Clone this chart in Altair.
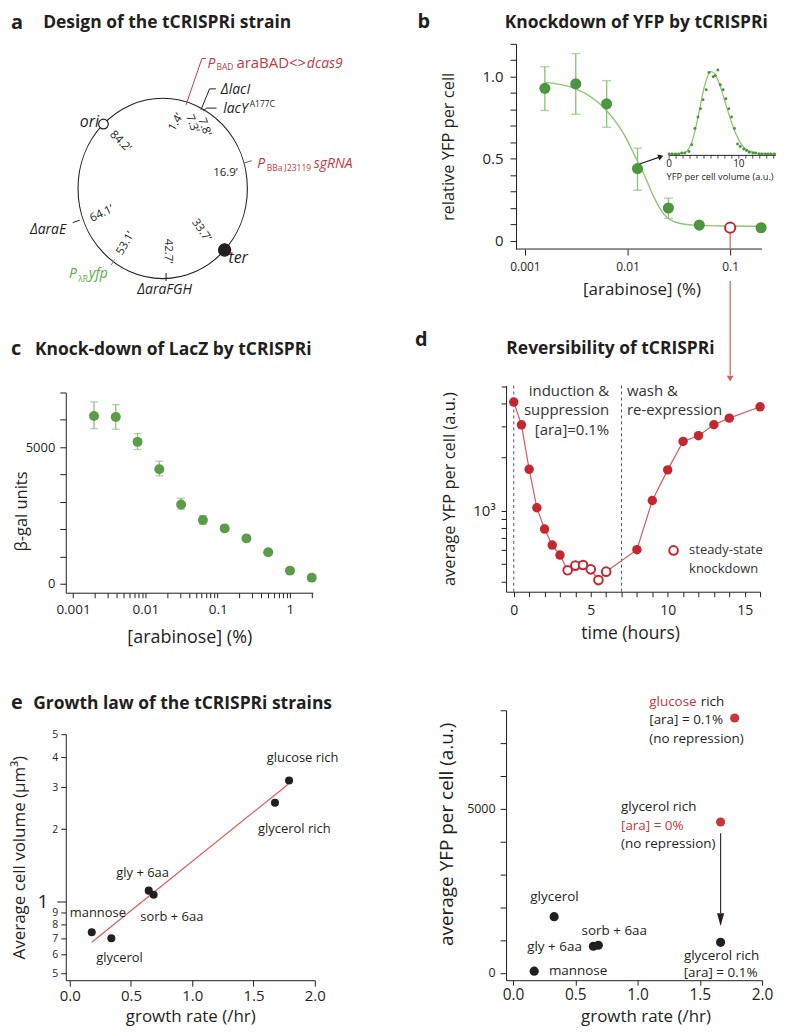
import altair as alt
import pandas as pd

FONT = "Open Sans"
INK = "#231f20"
GREEN = "#4d9541"
GREEN_C = "#5c9b48"
GREEN_BAR = "#8fc47e"
GREEN_FIT = "#8bc870"
RED = "#c4272f"
RED_LINE = "#d85a5e"
MAP_RED = "#c13a3e"
MAP_GREEN = "#5ca948"
E_RED = "#c8373c"
DASH = "#555555"

# ======================= data: panel a (genome map) =======================
MAP_RX, MAP_RY = 85.0, 90.5
map_center_x = [0.0]
map_center_y = [0.0]
site_names = ["ori", "ter"]
site_angles = [315.6, 133.0]
site_states = ["open", "filled"]
site_label_x = [-83.3, 66.0]
site_label_y = [62.2, -74.5]

pos_labels = ["1.4’", "7.3’", "7.8’", "16.9’", "33.7’", "42.7’", "53.1’", "64.1’", "84.2’"]
pos_x = [13.4, 29.2, 41.7, 63.0, 38.4, 4.9, -37.1, -61.1, -42.8]
pos_y = [66.4, 65.0, 61.7, 15.5, -42.0, -62.8, -55.3, -25.6, 47.2]
pos_angle = [300, 70, 70, 0, 55, 90, 300, 335, 45]

gene_text = ["P", "dcas9", "\u0394lacI", "lacY", "P", "sgRNA", "\u0394araE", "P", "yfp", "\u0394araFGH"]
gene_x = [45.0, 144.7, 58.4, 60.7, 95.0, 151.7, -133.3, -94.0, -74.0, -25.6]
gene_y = [120.5, 120.5, 94.7, 75.7, 20.5, 20.5, -46.1, -89.5, -89.5, -105.5]
gene_kind = ["dcas9", "dcas9", "host", "host", "dcas9", "dcas9", "host", "reporter", "reporter", "host"]

plain_text = ["araBAD<>"]
plain_x = [74.0]
plain_y = [120.5]
plain_kind = ["dcas9"]

sub_text = ["BAD", "A177C", "BBa J23119", "\u03bbR"]
sub_x = [54.0, 87.4, 104.5, -84.8]
sub_y = [118.5, 81.4, 17.4, -93.5]
sub_kind = ["dcas9", "host", "dcas9", "reporter"]

lead_x = [23.4, 39.4, 38.4, 47.0, 40.7, 44.0, 81.7, -83.3, -48.3, 3.4]
lead_y = [83.9, 130.5, 78.9, 100.0, 77.9, 80.7, 25.5, -31.8, -71.1, -84.8]
lead_x2 = [39.4, 43.4, 47.0, 53.4, 44.0, 54.0, 89.4, -90.3, -51.6, 3.4]
lead_y2 = [130.5, 130.5, 100.0, 100.0, 80.7, 80.7, 27.9, -34.3, -76.8, -92.8]
lead_kind = ["dcas9", "dcas9", "host", "host", "host", "host", "dcas9", "host", "reporter", "host"]

# ======================= data: panel b =======================
ara_b = [0.0015625, 0.003125, 0.00625, 0.0125, 0.025, 0.05, 0.2]
rel_yfp_b = [0.929, 0.956, 0.834, 0.44, 0.20, 0.096, 0.08]
steady_ara_b = [0.1]
steady_rel_b = [0.08]
err_ara_b = [0.0015625, 0.003125, 0.00625, 0.0125, 0.025]
err_lo_b = [0.794, 0.771, 0.692, 0.308, 0.137]
err_hi_b = [1.061, 1.141, 0.976, 0.565, 0.26]
fit_ara_b = [0.00155, 0.00304, 0.00594, 0.00929, 0.0125, 0.0145, 0.0182, 0.0227, 0.0306, 0.0444, 0.1, 0.2]
fit_rel_b = [0.965, 0.929, 0.808, 0.646, 0.484, 0.403, 0.262, 0.161, 0.11, 0.096, 0.09, 0.088]
b_yticks = [0, 0.1, 0.2, 0.3, 0.4, 0.5, 0.6, 0.7, 0.8, 0.9, 1.0, 1.1, 1.2]
B_AXIS_X0 = 0.000818
B_AXIS_X1 = 0.2046
B_AXIS_Y = -0.05
drop_x = [0.1, 0.1]
drop_y = [0.058, -0.245]
drop_y2 = [-0.05, -0.821]
drop_head_y = [-0.839]
pointer_x = [0.0131]
pointer_y = [0.468]
pointer_x2 = [0.0211]
pointer_y2 = [0.513]

hist_x = [0.0, 0.45, 0.9, 1.35, 1.8, 2.25, 2.84, 3.24, 3.69, 4.14, 4.5, 4.86, 5.32, 5.72, 6.31, 6.62,
          6.98, 7.34, 7.75, 8.15, 8.56, 8.96, 9.37, 9.82, 10.2, 10.7, 11.1, 11.5, 12.0, 12.4, 12.9,
          13.3, 13.8, 14.2, 14.6, 15.1]
hist_y = [0.0, 0.0, 0.0, 0.0, 0.01, 0.01, 0.03, 0.11, 0.31, 0.45, 0.55, 0.66, 0.78, 0.99, 0.94, 0.95,
          1.02, 0.84, 0.78, 0.67, 0.55, 0.45, 0.31, 0.12, 0.09, 0.06, 0.04, 0.02, 0.01, 0.01, 0.0,
          0.0, 0.0, 0.0, 0.0, 0.0]
hist_fit_x = [0, 1, 2, 2.5, 3, 3.5, 4, 4.5, 5, 5.5, 6, 6.5, 7, 7.5, 8, 8.5, 9, 9.5, 10, 10.5, 11, 12, 13, 15.3]
hist_fit_y = [0, 0, 0.01, 0.03, 0.09, 0.21, 0.39, 0.6, 0.8, 0.94, 1.0, 0.98, 0.9, 0.78, 0.64, 0.5,
              0.37, 0.26, 0.17, 0.1, 0.06, 0.02, 0.005, 0]
inset_ticks = [0, 1, 2, 3, 4, 5, 6, 7, 8, 9, 10, 11, 12, 13, 14, 15]
inset_tick_labels = ["0", "10"]
inset_tick_label_x = [0, 10]

# ======================= data: panel c =======================
ara_c = [0.00195, 0.0039, 0.0078, 0.0156, 0.03125, 0.0625, 0.125, 0.25, 0.5, 1.0, 2.0]
bgal_c = [6143, 6107, 5195, 4197, 2908, 2336, 2032, 1667, 1156, 487, 231]
err_ara_c = [0.00195, 0.0039, 0.0078, 0.0156, 0.03125, 0.0625]
err_lo_c = [5681, 5657, 4915, 3954, 2725, 2178]
err_hi_c = [6655, 6557, 5499, 4489, 3127, 2494]
c_xticks = [round(m * 10.0 ** e, 6) for e in (-3, -2, -1) for m in range(1, 10)] + [1.0, 2.0]
c_yticks = [0, 1000, 2000, 3000, 4000, 5000, 6000, 7000]

# ======================= data: panel d =======================
time_d = [0, 0.5, 1, 1.5, 2, 2.5, 3, 3.5, 4, 4.5, 5, 5.5, 6, 8, 9, 10, 11, 12, 13, 14, 16]
yfp_d = [4100, 3050, 1713, 1040, 789, 641, 563, 462, 491, 495, 468, 407, 454, 604, 1143, 1700,
         2460, 2649, 3053, 3327, 3855]
phase_d = ["run"] * 7 + ["steady"] * 6 + ["run"] * 8
switch_times = [0, 7]
note_right_text = ["induction &", "suppression", "[ara]=0.1%"]
note_right_t = [6.2, 6.2, 6.2]
note_right_y = [4758, 3673, 2836]
note_left_text = ["wash &", "re-expression"]
note_left_t = [7.35, 7.35]
note_left_y = [4758, 3673]
legend_mark_t = [10.38]
legend_mark_y = [598]
legend_text = ["steady-state", "knockdown"]
legend_text_t = [11.39, 11.39]
legend_text_y = [598, 472]
d_xticks = list(range(0, 17))
d_yticks = [400, 500, 600, 700, 800, 900, 1000, 2000, 3000, 4000, 5000]

# ======================= data: panel e =======================
medium_e1 = ["mannose", "glycerol", "gly + 6aa", "sorb + 6aa", "glycerol rich", "glucose rich"]
rate_e1 = [0.18, 0.34, 0.645, 0.685, 1.675, 1.79]
vol_e1 = [0.741, 0.70, 1.107, 1.064, 2.58, 3.2]
label_x_e1 = [0.23, 0.406, 0.595, 0.833, 1.833, 1.90]
label_y_e1 = [0.889, 0.581, 1.314, 0.856, 2.01, 3.96]
fit_rate_e1 = [0.18, 1.78]
fit_vol_e1 = [0.673, 3.08]
e1_yticks = [0.5, 0.6, 0.7, 0.8, 0.9, 1, 2, 3, 4, 5]

rate_e2 = [0.17, 0.33, 0.645, 0.685, 1.667, 1.667, 1.78]
yfp_e2 = [50, 1710, 810, 840, 930, 4595, 7763]
state_e2 = ["repressed"] * 5 + ["unrepressed"] * 2
arrow_e2_x = [1.667]
arrow_e2_y = [4250]
arrow_e2_y2 = [1822]
arrow_e2_head = [1620]
note_e2_left_text = ["glucose", "rich", "[ara] = 0.1%", "(no repression)", "glycerol rich", "[ara] = 0%",
                     "(no repression)", "mannose"]
note_e2_left_x = [1.094, 1.507, 1.094, 1.094, 0.867, 0.867, 0.867, 0.288]
note_e2_left_y = [8248, 8248, 7692, 7136, 5041, 4482, 3926, 70]
note_e2_left_kind = ["red", "ink", "ink", "ink", "ink", "red", "ink", "ink"]
note_e2_mid_text = ["glycerol", "sorb + 6aa", "gly + 6aa", "glycerol rich", "[ara] = 0.1%"]
note_e2_mid_x = [0.333, 0.813, 0.333, 1.675, 1.667]
note_e2_mid_y = [2296, 1264, 790, 526, 0]
e2_yticks = [0, 1000, 2000, 3000, 4000, 5000, 6000, 7000, 8000]
e_xticks = [0, 0.5, 1, 1.5, 2]

COLOR = alt.Scale(
    domain=["dcas9", "host", "reporter", "repressed", "unrepressed", "ink", "red"],
    range=[MAP_RED, INK, MAP_GREEN, INK, E_RED, INK, E_RED],
)

# layout frame in page pixels (inside the 8px page margin); panel a's plot corner sits at (66, 42)
FRAME_X0, FRAME_Y0, FRAME_X1, FRAME_Y1 = 8, 8, 779, 1028
COL1_LEFT, ROW1_TOP = 66, 42


# ======================= helpers =======================
def lin(domain):
    return alt.Scale(domain=domain, nice=False, zero=False)


def logs(domain):
    return alt.Scale(type="log", domain=domain, nice=False)


def header(letter, heading, lx, ly, hx, hy):
    lt = alt.Chart(pd.DataFrame({"t": [letter]})).mark_text(
        font=FONT, fontSize=20, fontWeight="bold", align="left", baseline="alphabetic", color=INK
    ).encode(x=alt.value(lx), y=alt.value(ly), text="t:N")
    ht = alt.Chart(pd.DataFrame({"t": [heading]})).mark_text(
        font=FONT, fontSize=17.5, fontWeight="bold", align="left", baseline="alphabetic", color=INK
    ).encode(x=alt.value(hx), y=alt.value(hy), text="t:N")
    return [lt, ht]


def spacer(h):
    return alt.Chart(pd.DataFrame({"s": [0]})).mark_point(opacity=0).encode(
        x=alt.X("s:Q", axis=None), y=alt.Y("s:Q", axis=None)
    ).properties(width=10, height=h)


def kind_color(field):
    return alt.Color(field, type="nominal", scale=COLOR, legend=None)


# ======================= panel a =======================
XA = lin([-97.3, 152.7])
YA = lin([-204.8, 145.2])


def ax(f):
    return alt.X(f, type="quantitative", scale=XA, axis=None)


def ay(f):
    return alt.Y(f, type="quantitative", scale=YA, axis=None)


ELLIPSE = "M-1,0A1,1.065,0,1,0,1,0A1,1.065,0,1,0,-1,0Z"

a_frame = alt.Chart(pd.DataFrame({"f": [0]})).mark_rect(opacity=0).encode(
    x=alt.value(FRAME_X0 - COL1_LEFT), x2=alt.value(FRAME_X1 - COL1_LEFT),
    y=alt.value(FRAME_Y0 - ROW1_TOP), y2=alt.value(FRAME_Y1 - ROW1_TOP))

a_circle = alt.Chart(pd.DataFrame({"x": map_center_x, "y": map_center_y})).mark_point(
    shape=ELLIPSE, size=(2 * MAP_RX) ** 2, filled=False, color=INK, strokeWidth=1.1, opacity=1
).encode(x=ax("x"), y=ay("y"))

a_leads = alt.Chart(pd.DataFrame({"x": lead_x, "y": lead_y, "x2": lead_x2, "y2": lead_y2, "kind": lead_kind})).mark_rule(
    strokeWidth=1
).encode(x=ax("x"), y=ay("y"), x2="x2:Q", y2="y2:Q", color=kind_color("kind"))

a_sites = alt.Chart(pd.DataFrame({"name": site_names, "angle": site_angles, "state": site_states})).transform_calculate(
    sx=f"{MAP_RX}*sin(datum.angle*PI/180)", sy=f"{MAP_RY}*cos(datum.angle*PI/180)"
).mark_point(filled=True, stroke=INK, strokeWidth=1.2, opacity=1).encode(
    x=ax("sx"), y=ay("sy"),
    fill=alt.Fill("state:N", scale=alt.Scale(domain=["open", "filled"], range=["#ffffff", INK]), legend=None),
    size=alt.Size("state:O", scale=alt.Scale(domain=["open", "filled"], range=[95, 150]), legend=None),
)

a_pos = alt.Chart(pd.DataFrame({"label": pos_labels, "x": pos_x, "y": pos_y, "angle": pos_angle})).mark_text(
    font=FONT, fontSize=11.5, color=INK, align="center", baseline="middle"
).encode(x=ax("x"), y=ay("y"), text="label:N", angle=alt.Angle("angle:Q", scale=None))

a_gene = alt.Chart(pd.DataFrame({"t": gene_text, "x": gene_x, "y": gene_y, "kind": gene_kind})).mark_text(
    font=FONT, fontSize=14, fontStyle="italic", align="left", baseline="alphabetic"
).encode(x=ax("x"), y=ay("y"), text="t:N", color=kind_color("kind"))

a_plain = alt.Chart(pd.DataFrame({"t": plain_text, "x": plain_x, "y": plain_y, "kind": plain_kind})).mark_text(
    font=FONT, fontSize=15, align="left", baseline="alphabetic"
).encode(x=ax("x"), y=ay("y"), text="t:N", color=kind_color("kind"))

a_sub = alt.Chart(pd.DataFrame({"t": sub_text, "x": sub_x, "y": sub_y, "kind": sub_kind})).mark_text(
    font=FONT, fontSize=8.5, align="left", baseline="alphabetic"
).encode(x=ax("x"), y=ay("y"), text="t:N", color=kind_color("kind"))

a_site_text = alt.Chart(pd.DataFrame({"t": site_names, "x": site_label_x, "y": site_label_y})).mark_text(
    font=FONT, fontSize=16, fontStyle="italic", align="left", baseline="alphabetic", color=INK
).encode(x=ax("x"), y=ay("y"), text="t:N")

chart_a = alt.layer(
    a_frame, a_circle, a_leads, a_sites, a_pos, a_gene, a_plain, a_sub, a_site_text,
    *header("a", "Design of the tCRISPRi strain", -55, -14.5, -22.7, -15.5)
).properties(width=250, height=350)

# ======================= panel b =======================
XB = logs([0.000654, 0.2046])
YB = lin([-0.05, 1.2])
xb_axis = alt.Axis(values=[0.001, 0.01, 0.1], format="~g", domain=False, tickSize=6, labelFontSize=12,
                   labelPadding=7, labelFlush=False, labelOverlap=False, title="[arabinose] (%)",
                   titleFontSize=17, titlePadding=9, titleX=136)
yb_axis = alt.Axis(values=b_yticks,
                   labelExpr="datum.value == 0 ? '0' : datum.value == 0.5 ? '0.5' : datum.value == 1 ? '1.0' : ''",
                   offset=-10, tickSize=6, labelPadding=7, labelFontSize=15, labelFlush=False,
                   labelOverlap=False, title="relative YFP per cell", titleFontSize=16.5, titlePadding=26)


def bx(f):
    return alt.X(f, type="quantitative", scale=XB, axis=xb_axis)


def by(f):
    return alt.Y(f, type="quantitative", scale=YB, axis=yb_axis)


b_axisline = alt.Chart(pd.DataFrame({"x0": [B_AXIS_X0], "x1": [B_AXIS_X1], "y0": [B_AXIS_Y]})).mark_rule(
    color=INK, strokeWidth=1
).encode(x=bx("x0"), x2="x1:Q", y=by("y0"))
b_fit = alt.Chart(pd.DataFrame({"ara": fit_ara_b, "rel": fit_rel_b})).mark_line(
    color=GREEN_FIT, strokeWidth=1.4, interpolate="monotone"
).encode(x=bx("ara"), y=by("rel"))
err_b_df = pd.DataFrame({"ara": err_ara_b, "lo": err_lo_b, "hi": err_hi_b})
b_err = alt.Chart(err_b_df).mark_rule(color=GREEN_BAR, strokeWidth=1.4).encode(x=bx("ara"), y=by("lo"), y2="hi:Q")
b_cap_lo = alt.Chart(err_b_df).mark_tick(color=GREEN_BAR, thickness=1.4, size=9, orient="horizontal").encode(
    x=bx("ara"), y=by("lo"))
b_cap_hi = alt.Chart(err_b_df).mark_tick(color=GREEN_BAR, thickness=1.4, size=9, orient="horizontal").encode(
    x=bx("ara"), y=by("hi"))
b_pts = alt.Chart(pd.DataFrame({"ara": ara_b, "rel": rel_yfp_b})).mark_circle(
    size=125, color=GREEN, opacity=1).encode(x=bx("ara"), y=by("rel"))
b_drop = alt.Chart(pd.DataFrame({"x": drop_x, "y": drop_y, "y2": drop_y2})).mark_rule(
    color=RED_LINE, strokeWidth=1.2).encode(x=bx("x"), y=by("y"), y2="y2:Q")
b_drop_head = alt.Chart(pd.DataFrame({"x": [drop_x[0]], "y": drop_head_y})).mark_point(
    shape="triangle-down", filled=True, size=45, color=RED_LINE, opacity=1).encode(x=bx("x"), y=by("y"))
b_steady = alt.Chart(pd.DataFrame({"ara": steady_ara_b, "rel": steady_rel_b})).mark_point(
    shape="circle", size=105, filled=True, fill="#ffffff", stroke=RED, strokeWidth=2, opacity=1
).encode(x=bx("ara"), y=by("rel"))
b_pointer = alt.Chart(pd.DataFrame({"x": pointer_x, "y": pointer_y, "x2": pointer_x2, "y2": pointer_y2})).mark_rule(
    color=INK, strokeWidth=1.2).encode(x=bx("x"), y=by("y"), x2="x2:Q", y2="y2:Q")
b_pointer_head = alt.Chart(pd.DataFrame({"x": pointer_x2, "y": pointer_y2})).mark_point(
    shape="triangle-up", angle=70, filled=True, size=40, color=INK, opacity=1).encode(x=bx("x"), y=by("y"))

b_main = alt.layer(b_axisline, b_fit, b_err, b_cap_lo, b_cap_hi, b_pts, b_drop, b_drop_head, b_steady,
                   b_pointer, b_pointer_head,
                   *header("b", "Knockdown of YFP by tCRISPRi", -89, -15.5, -1.3, -15.5))

XI = lin([-23.39, 13.33])
YI = lin([-1.158, 1.339])


def ix(f):
    return alt.X(f, type="quantitative", scale=XI, axis=None)


def iy(f):
    return alt.Y(f, type="quantitative", scale=YI, axis=None)


i_axis = alt.Chart(pd.DataFrame({"x0": [0.0], "x1": [15.3], "y": [-0.018]})).mark_rule(
    color=INK, strokeWidth=1).encode(x=ix("x0"), x2="x1:Q", y=iy("y"))
i_ticks = alt.Chart(pd.DataFrame({"x": inset_ticks})).transform_calculate(y0="-0.018", y1="-0.058").mark_rule(
    color=INK, strokeWidth=0.8).encode(x=ix("x"), y=iy("y0"), y2="y1:Q")
i_labels = alt.Chart(pd.DataFrame({"t": inset_tick_labels, "x": inset_tick_label_x})).transform_calculate(
    y="-0.125").mark_text(font=FONT, fontSize=10, color=INK, baseline="middle").encode(
    x=ix("x"), y=iy("y"), text="t:N")
i_title = alt.Chart(pd.DataFrame({"t": ["YFP per cell volume (a.u.)"]})).transform_calculate(
    x="7.3", y="-0.28").mark_text(font=FONT, fontSize=9.3, color=INK, baseline="middle").encode(
    x=ix("x"), y=iy("y"), text="t:N")
i_fit = alt.Chart(pd.DataFrame({"x": hist_fit_x, "y": hist_fit_y})).mark_line(
    color=GREEN_FIT, strokeWidth=1.3, interpolate="monotone").encode(x=ix("x"), y=iy("y"))
i_dots = alt.Chart(pd.DataFrame({"x": hist_x, "y": hist_y})).mark_circle(
    size=9, color=GREEN, opacity=1).encode(x=ix("x"), y=iy("y"))
b_inset = alt.layer(i_axis, i_ticks, i_labels, i_title, i_fit, i_dots)

chart_b = alt.layer(b_main, b_inset).resolve_scale(x="independent", y="independent").properties(
    width=257, height=206)

# ======================= panel c =======================
XC = logs([0.000794, 2.07])
YC = lin([-320, 7000])
xc_axis = alt.Axis(values=c_xticks,
                   labelExpr="abs(log(datum.value)/LN10 - round(log(datum.value)/LN10)) < 0.001 ? format(datum.value, '~g') : ''",
                   tickSize=5, labelPadding=5, labelFontSize=13.5, labelFlush=False, labelOverlap=False,
                   title="[arabinose] (%)", titleFontSize=18, titlePadding=12)
yc_axis = alt.Axis(values=c_yticks, labelExpr="datum.value == 0 || datum.value == 5000 ? datum.label : ''",
                   format="d", tickSize=6, labelPadding=5, labelFontSize=13, labelFlush=False,
                   labelOverlap=False, title="\u03b2-gal units", titleFontSize=16.5, titlePadding=-4, titleY=119)


def cx(f):
    return alt.X(f, type="quantitative", scale=XC, axis=xc_axis)


def cy(f):
    return alt.Y(f, type="quantitative", scale=YC, axis=yc_axis)


err_c_df = pd.DataFrame({"ara": err_ara_c, "lo": err_lo_c, "hi": err_hi_c})
c_err = alt.Chart(err_c_df).mark_rule(color=GREEN_BAR, strokeWidth=1.3).encode(x=cx("ara"), y=cy("lo"), y2="hi:Q")
c_cap_lo = alt.Chart(err_c_df).mark_tick(color=GREEN_BAR, thickness=1.3, size=8, orient="horizontal").encode(
    x=cx("ara"), y=cy("lo"))
c_cap_hi = alt.Chart(err_c_df).mark_tick(color=GREEN_BAR, thickness=1.3, size=8, orient="horizontal").encode(
    x=cx("ara"), y=cy("hi"))
c_pts = alt.Chart(pd.DataFrame({"ara": ara_c, "bgal": bgal_c})).mark_circle(
    size=100, color=GREEN_C, opacity=1).encode(x=cx("ara"), y=cy("bgal"))

chart_c = alt.layer(c_err, c_cap_lo, c_cap_hi, c_pts,
                    *header("c", "Knock-down of LacZ by tCRISPRi", -55, -37.4, -31, -37.4)
                    ).properties(width=248, height=201)

# ======================= panel d =======================
XD = lin([-0.5, 16])
YD = logs([350, 5080])
xd_axis = alt.Axis(values=d_xticks, labelExpr="datum.value % 5 == 0 ? datum.label : ''", tickSize=5,
                   labelPadding=7, labelFontSize=14, labelFlush=False, labelOverlap=False,
                   title="time (hours)", titleFontSize=17.5, titlePadding=7, titleX=124.5)
yd_axis = alt.Axis(values=d_yticks, labelExpr="datum.value == 1000 ? '10\u00b3' : ''", tickSize=5,
                   labelPadding=6, labelFontSize=15, labelFlush=False, labelOverlap=False,
                   title="average YFP per cell (a.u.)", titleFontSize=16.5, titlePadding=15)


def dx_(f):
    return alt.X(f, type="quantitative", scale=XD, axis=xd_axis)


def dy_(f):
    return alt.Y(f, type="quantitative", scale=YD, axis=yd_axis)


d_df = pd.DataFrame({"t": time_d, "yfp": yfp_d, "phase": phase_d})
d_switch = alt.Chart(pd.DataFrame({"t": switch_times})).mark_rule(
    color=DASH, strokeDash=[3, 3], strokeWidth=1).encode(x=dx_("t"))
d_line = alt.Chart(d_df).mark_line(color=RED_LINE, strokeWidth=1.2).encode(x=dx_("t"), y=dy_("yfp"))
d_run = alt.Chart(d_df).transform_filter("datum.phase == 'run'").mark_circle(
    size=90, color=RED, opacity=1).encode(x=dx_("t"), y=dy_("yfp"))
d_steady = alt.Chart(d_df).transform_filter("datum.phase == 'steady'").mark_point(
    shape="circle", size=75, filled=True, fill="#ffffff", stroke=RED, strokeWidth=2, opacity=1
).encode(x=dx_("t"), y=dy_("yfp"))
d_note_r = alt.Chart(pd.DataFrame({"s": note_right_text, "t": note_right_t, "y": note_right_y})).mark_text(
    font=FONT, fontSize=15, color="#333333", align="right", baseline="middle"
).encode(x=dx_("t"), y=dy_("y"), text="s:N")
d_note_l = alt.Chart(pd.DataFrame({"s": note_left_text, "t": note_left_t, "y": note_left_y})).mark_text(
    font=FONT, fontSize=15, color="#333333", align="left", baseline="middle"
).encode(x=dx_("t"), y=dy_("y"), text="s:N")
d_leg_mark = alt.Chart(pd.DataFrame({"t": legend_mark_t, "y": legend_mark_y})).mark_point(
    shape="circle", size=75, filled=True, fill="#ffffff", stroke=RED, strokeWidth=2, opacity=1
).encode(x=dx_("t"), y=dy_("y"))
d_leg_text = alt.Chart(pd.DataFrame({"s": legend_text, "t": legend_text_t, "y": legend_text_y})).mark_text(
    font=FONT, fontSize=13, color="#333333", align="left", baseline="middle"
).encode(x=dx_("t"), y=dy_("y"), text="s:N")

chart_d = alt.layer(d_switch, d_line, d_run, d_steady, d_note_r, d_note_l, d_leg_mark, d_leg_text,
                    *header("d", "Reversibility of tCRISPRi", -91.3, -40, 0.3, -31.7)
                    ).properties(width=255, height=207)

# ======================= panel e (left) =======================
XE1 = lin([-0.032, 2.0])
YE1 = logs([0.467, 5.0])
xe1_axis = alt.Axis(values=e_xticks, format=".1f", tickSize=6, labelPadding=2, labelFontSize=15,
                    labelFlush=False, labelOverlap=False, title="growth rate (/hr)", titleFontSize=17,
                    titlePadding=5)
ye1_axis = alt.Axis(values=e1_yticks,
                    labelExpr="datum.value < 0.95 ? format(datum.value * 10, '.0f') : format(datum.value, '.0f')",
                    tickSize={"condition": {"test": "datum.value == 1", "value": 9}, "value": 5},
                    labelPadding={"condition": {"test": "datum.value == 1", "value": 9}, "value": 3},
                    labelFontSize={"condition": {"test": "datum.value == 1", "value": 19}, "value": 10.5},
                    labelFlush=False, labelOverlap=False, title="Average cell volume (\u00b5m\u00b3)",
                    titleFontSize=17, titlePadding=8.5)


def e1x(f):
    return alt.X(f, type="quantitative", scale=XE1, axis=xe1_axis)


def e1y(f):
    return alt.Y(f, type="quantitative", scale=YE1, axis=ye1_axis)


e1_fit = alt.Chart(pd.DataFrame({"r": fit_rate_e1, "v": fit_vol_e1})).mark_line(
    color="#e0585b", strokeWidth=1.2).encode(x=e1x("r"), y=e1y("v"))
e1_pts = alt.Chart(pd.DataFrame({"r": rate_e1, "v": vol_e1})).mark_circle(
    size=65, color=INK, opacity=1).encode(x=e1x("r"), y=e1y("v"))
e1_lab = alt.Chart(pd.DataFrame({"s": medium_e1, "x": label_x_e1, "y": label_y_e1})).mark_text(
    font=FONT, fontSize=13, color=INK, align="center", baseline="middle"
).encode(x=e1x("x"), y=e1y("y"), text="s:N")

chart_e1 = alt.layer(e1_fit, e1_pts, e1_lab,
                     *header("e", "Growth law of the tCRISPRi strains", -55, -25.7, -32.7, -25.7)
                     ).properties(width=250, height=247)

# ======================= panel e (right) =======================
XE2 = lin([-0.056, 2.0])
YE2 = lin([-225, 8000])
xe2_axis = alt.Axis(values=e_xticks, format=".1f", tickSize=5, labelPadding=2, labelFontSize=15.5,
                    labelFlush=False, labelOverlap=False, title="growth rate (/hr)", titleFontSize=17,
                    titlePadding=6, titleX=140)
ye2_axis = alt.Axis(values=e2_yticks, labelExpr="datum.value == 0 || datum.value == 5000 ? datum.label : ''",
                    format="d", tickSize=6, labelPadding=5, labelFontSize=12.5, labelFlush=False,
                    labelOverlap=False, title="average YFP per cell (a.u.)", titleFontSize=19, titlePadding=10,
                    titleY=124)


def e2x(f):
    return alt.X(f, type="quantitative", scale=XE2, axis=xe2_axis)


def e2y(f):
    return alt.Y(f, type="quantitative", scale=YE2, axis=ye2_axis)


e2_arrow = alt.Chart(pd.DataFrame({"x": arrow_e2_x, "y": arrow_e2_y, "y2": arrow_e2_y2})).mark_rule(
    color="#333333", strokeWidth=1.2).encode(x=e2x("x"), y=e2y("y"), y2="y2:Q")
e2_head = alt.Chart(pd.DataFrame({"x": arrow_e2_x, "y": arrow_e2_head})).mark_point(
    shape="M-0.55,-1L0.55,-1L0,1Z", filled=True, size=169, color=INK, opacity=1).encode(x=e2x("x"), y=e2y("y"))
e2_pts = alt.Chart(pd.DataFrame({"r": rate_e2, "y": yfp_e2, "state": state_e2})).mark_circle(
    size=85, opacity=1).encode(x=e2x("r"), y=e2y("y"), color=kind_color("state"))
e2_left = alt.Chart(pd.DataFrame({"s": note_e2_left_text, "x": note_e2_left_x, "y": note_e2_left_y,
                                  "kind": note_e2_left_kind})).mark_text(
    font=FONT, fontSize=13.5, align="left", baseline="middle"
).encode(x=e2x("x"), y=e2y("y"), text="s:N", color=kind_color("kind"))
e2_mid = alt.Chart(pd.DataFrame({"s": note_e2_mid_text, "x": note_e2_mid_x, "y": note_e2_mid_y})).mark_text(
    font=FONT, fontSize=13.5, align="center", baseline="middle", color=INK
).encode(x=e2x("x"), y=e2y("y"), text="s:N")

chart_e2 = alt.layer(e2_arrow, e2_head, e2_pts, e2_left, e2_mid).properties(width=257, height=271)

# ======================= layout =======================
col1 = alt.vconcat(chart_a, chart_c, spacer(142), chart_e1, spacing=0, bounds="flush")
col2 = alt.vconcat(chart_b, spacer(137), chart_d, spacer(119), chart_e2, spacing=0, bounds="flush")

chart = alt.hconcat(col1, col2, spacing=442, bounds="flush", padding=0).configure(
    background="#ffffff"
).configure_view(
    stroke=None
).configure_axis(
    grid=False, domainColor=INK, tickColor=INK, labelColor=INK, titleColor=INK, labelFont=FONT,
    titleFont=FONT, titleFontWeight="normal", domainWidth=1, tickWidth=1
)

chart.save("out.html", embed_options={"renderer": "svg", "actions": False})
